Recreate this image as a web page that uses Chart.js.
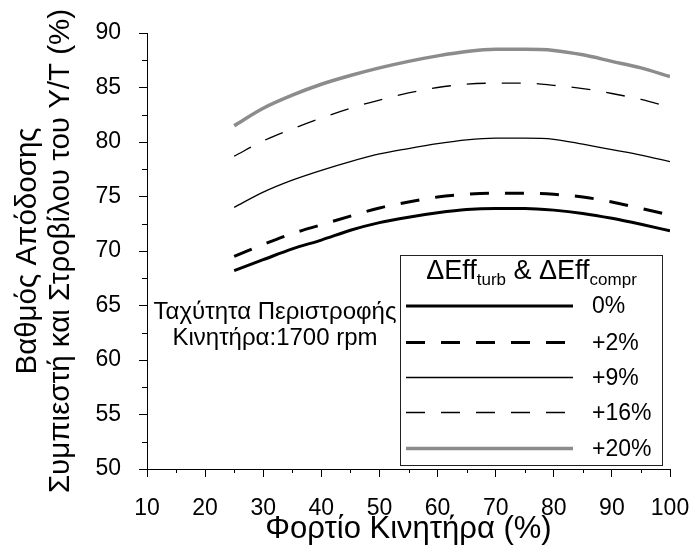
<!DOCTYPE html>
<html>
<head>
<meta charset="utf-8">
<script src="https://cdn.jsdelivr.net/npm/chart.js@4/dist/chart.umd.min.js"></script>
<style>
  html, body { margin: 0; padding: 0; background: #fff; }
</style>
</head>
<body>
<canvas id="eff-chart" width="691" height="554"></canvas>
<script>
// φορτίο κινητήρα (%)
const load = [25, 30, 35, 40, 45, 50, 55, 60, 65, 70, 75, 80, 85, 90, 95, 100];

// βαθμός απόδοσης Υ/Τ (%) ανά αύξηση ΔEff
const eff0  = [68.2, 69.2, 70.2, 71.0, 71.9, 72.6, 73.1, 73.5, 73.8, 73.9, 73.9, 73.75, 73.45, 73.0, 72.45, 71.85];
const eff2  = [69.5, 70.6, 71.6, 72.4, 73.2, 73.95, 74.5, 74.95, 75.2, 75.3, 75.3, 75.2, 74.95, 74.5, 73.9, 73.3];
const eff9  = [74.0, 75.4, 76.5, 77.4, 78.2, 78.9, 79.4, 79.85, 80.2, 80.35, 80.35, 80.25, 79.8, 79.3, 78.8, 78.2];
const eff16 = [78.7, 80.1, 81.2, 82.2, 83.1, 83.85, 84.5, 85.0, 85.3, 85.4, 85.4, 85.2, 84.9, 84.45, 83.9, 83.2];
const eff20 = [81.5, 83.1, 84.3, 85.3, 86.1, 86.8, 87.4, 87.9, 88.3, 88.5, 88.5, 88.4, 88.0, 87.4, 86.8, 86.0];

const seriesLabels = ['0%', '+2%', '+9%', '+16%', '+20%'];
const noteLines = ['Ταχύτητα Περιστροφής', 'Κινητήρα:1700 rpm'];

const FONT = "'Liberation Sans', Arial, sans-serif";

function toPoints(vals) {
  return vals.map((v, i) => ({ x: load[i], y: v }));
}

// μικρά ενδιάμεσα ticks
const minorTicks = {
  id: 'minorTicks',
  afterDraw(chart) {
    const { ctx, scales: { x, y } } = chart;
    ctx.save();
    ctx.strokeStyle = '#000';
    ctx.lineWidth = 1;
    ctx.beginPath();
    x.ticks.forEach(t => {
      if (t.value % 10 !== 0) {
        const px = Math.round(x.getPixelForValue(t.value)) + 0.5;
        ctx.moveTo(px, y.bottom);
        ctx.lineTo(px, y.bottom + 4);
      }
    });
    y.ticks.forEach(t => {
      if (t.value % 5 !== 0) {
        const py = Math.round(y.getPixelForValue(t.value)) + 0.5;
        ctx.moveTo(x.left - 5, py);
        ctx.lineTo(x.left, py);
      }
    });
    ctx.stroke();
    ctx.restore();
  }
};

// υπόμνημα μέσα στην περιοχή του γραφήματος + σημείωση στροφών
const boxLegend = {
  id: 'boxLegend',
  afterDraw(chart) {
    const { ctx } = chart;
    const bx = 400.5, by = 255.5, bw = 262, bh = 210;
    ctx.save();
    ctx.fillStyle = '#fff';
    ctx.fillRect(bx, by, bw, bh);
    ctx.strokeStyle = '#222';
    ctx.lineWidth = 1;
    ctx.strokeRect(bx, by, bw, bh);

    // τίτλος: ΔEff_turb & ΔEff_compr
    const parts = [
      ['ΔEff', 27, 0], ['turb', 17, 6], [' & ΔEff', 27, 0], ['compr', 17, 6]
    ];
    let total = 0;
    parts.forEach(p => { ctx.font = p[1] + 'px ' + FONT; total += ctx.measureText(p[0]).width; });
    let tx = bx + bw / 2 - total / 2;
    ctx.fillStyle = '#000';
    ctx.textBaseline = 'alphabetic';
    parts.forEach(p => {
      ctx.font = p[1] + 'px ' + FONT;
      ctx.fillText(p[0], tx, 279 + p[2]);
      tx += ctx.measureText(p[0]).width;
    });

    const rows = [306, 342.5, 377.5, 412.5, 448.5];
    chart.data.datasets.forEach((ds, i) => {
      ctx.beginPath();
      ctx.strokeStyle = ds.borderColor;
      ctx.lineWidth = ds.borderWidth;
      ctx.setLineDash(ds.borderDash || []);
      ctx.moveTo(406, rows[i]);
      ctx.lineTo(573, rows[i]);
      ctx.stroke();
      ctx.setLineDash([]);
      ctx.font = '23px ' + FONT;
      ctx.textBaseline = 'middle';
      ctx.fillText(ds.label, 592, rows[i] + 1);
    });

    ctx.font = '24px ' + FONT;
    ctx.textAlign = 'center';
    ctx.textBaseline = 'middle';
    ctx.fillText(noteLines[0], 275, 312);
    ctx.fillText(noteLines[1], 275, 338);
    ctx.restore();
  }
};

const styles = [
  { borderColor: '#000', borderWidth: 3, borderDash: [] },
  { borderColor: '#000', borderWidth: 3, borderDash: [19, 16] },
  { borderColor: '#000', borderWidth: 1.3, borderDash: [] },
  { borderColor: '#000', borderWidth: 1.3, borderDash: [19, 16] },
  { borderColor: '#8c8c8c', borderWidth: 3.5, borderDash: [] }
];

const values = [eff0, eff2, eff9, eff16, eff20];

new Chart(document.getElementById('eff-chart'), {
  type: 'line',
  data: {
    datasets: values.map((v, i) => Object.assign({
      label: seriesLabels[i],
      data: toPoints(v),
      pointRadius: 0,
      fill: false,
      cubicInterpolationMode: 'monotone'
    }, styles[i]))
  },
  options: {
    responsive: false,
    animation: false,
    events: [],
    layout: { padding: { top: 33, right: 21, left: 0, bottom: 0 } },
    plugins: {
      legend: { display: false },
      tooltip: { enabled: false }
    },
    scales: {
      x: {
        type: 'linear',
        min: 10,
        max: 100,
        afterFit(scale) {
          scale.height = 85;
          scale.paddingLeft = 0;
          scale.paddingRight = 0;
        },
        border: { color: '#000', width: 1 },
        grid: {
          drawOnChartArea: false,
          tickLength: 8,
          tickColor: c => (c.tick && c.tick.value % 10 === 0) ? '#000' : 'rgba(0,0,0,0)'
        },
        ticks: {
          stepSize: 5,
          autoSkip: false,
          maxRotation: 0,
          padding: 18,
          color: '#000',
          font: { family: FONT, size: 23 },
          callback: v => (v % 10 === 0 ? v : '')
        },
        title: {
          display: true,
          text: 'Φορτίο Κινητήρα (%)',
          color: '#000',
          font: { family: FONT, size: 31, lineHeight: 1.2 },
          padding: { top: 0, bottom: 6 }
        }
      },
      y: {
        min: 50,
        max: 90,
        afterFit(scale) { scale.width = 147; },
        border: { color: '#000', width: 1 },
        grid: {
          drawOnChartArea: false,
          tickLength: 8,
          tickColor: c => (c.tick && c.tick.value % 5 === 0) ? '#000' : 'rgba(0,0,0,0)'
        },
        ticks: {
          stepSize: 2.5,
          autoSkip: false,
          padding: 18,
          color: '#000',
          font: { family: FONT, size: 23 },
          callback: v => (v % 5 === 0 ? v : '')
        },
        title: {
          display: true,
          text: ['Βαθμός Απόδοσης', 'Συμπιεστή και Στροβίλου του Υ/Τ (%)'],
          color: '#000',
          font: { family: FONT, size: 29.5, lineHeight: 1.12 },
          padding: { top: 11, bottom: 0 }
        }
      }
    }
  },
  plugins: [minorTicks, boxLegend]
});
</script>
</body>
</html>
